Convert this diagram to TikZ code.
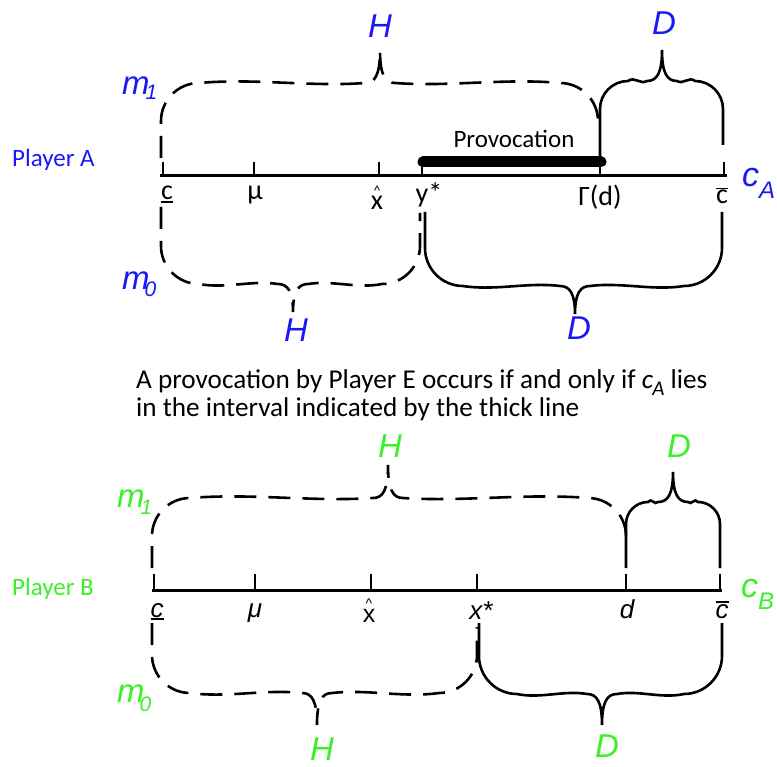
\documentclass[tikz,border=0pt]{standalone}
\usepackage{fontspec}
\setmainfont{Carlito}
\newfontfamily\lab{Liberation Sans}
\definecolor{pa}{RGB}{25,25,245}
\definecolor{pb}{RGB}{60,240,40}
\newcommand\obar[1]{\leavevmode\vbox{\offinterlineskip\hrule height 1.6pt\kern 1.2pt\hbox{#1}}}
\newcommand\ubar[1]{\leavevmode\vtop{\offinterlineskip\hbox{#1}\kern 1pt\hrule height 2.2pt}}
\newcommand\hatx[2]{\leavevmode\setbox0\hbox{#1}\vbox{\offinterlineskip\hbox to\wd0{\hss{\fontsize{14}{14}\selectfont\textasciicircum}\hss}\kern #2\box0}}
\newcommand\mybrace[9]{%
 \pgfmathsetmacro\bd{sign(#8-#6)}%
 \pgfmathsetmacro\ra{#2+#9}\pgfmathsetmacro\rb{#7-15}%
 \pgfmathsetmacro\la{#7+15}\pgfmathsetmacro\lb{#4-#9}%
 \draw[#1] (#2,#3) -- (#2,{#6-\bd*#9})
  .. controls (#2,{#6-\bd*#9*0.45}) and ({#2+#9*0.45},#6) .. (\ra,#6)
  .. controls ({\ra+(\rb-\ra)/3},{#6+\bd*5}) and ({\ra+2*(\rb-\ra)/3},{#6-\bd*4}) .. (\rb,#6)
  .. controls ({#7-5},#6) and (#7,{#6+\bd*8}) .. (#7,#8)
  .. controls (#7,{#6+\bd*8}) and ({#7+5},#6) .. (\la,#6)
  .. controls ({\la+(\lb-\la)/3},{#6-\bd*4}) and ({\la+2*(\lb-\la)/3},{#6+\bd*5}) .. (\lb,#6)
  .. controls ({#4-#9*0.45},#6) and (#4,{#6-\bd*#9*0.45}) .. (#4,{#6-\bd*#9}) -- (#4,#5);
}
\begin{document}
\begin{tikzpicture}[x=1pt,y=-1pt,
  axis/.style={line width=3pt},
  tickmark/.style={line width=1.5pt},
  solidbrace/.style={line width=2.6pt},
  dashbrace/.style={line width=2.6pt,dash pattern=on 22pt off 12pt},
  ital/.style={font=\lab\itshape\fontsize{33}{33}\selectfont,inner sep=0pt,anchor=base},
  tlab/.style={font=\fontsize{28}{28}\selectfont,inner sep=0pt,anchor=base},
  blab/.style={font=\lab\itshape\fontsize{26}{26}\selectfont,inner sep=0pt,anchor=base},
  txt/.style={font=\fontsize{25}{25}\selectfont,inner sep=0pt,anchor=base west},
  captxt/.style={font=\fontsize{27.2}{27.2}\selectfont,inner sep=0pt,anchor=base west}]
\useasboundingbox (0,0) rectangle (777,767);

% ---------------- Player A ----------------
\node[txt,text=pa] (pA) at (12,167) {Player A};
\coordinate (a0) at (160,176);
\coordinate (a1) at (727,176);
\draw[axis] (a0) -- (a1);
\foreach \n/\x in {c/163,mu/254,xh/379,ys/422,gd/600,cb/724}
  \draw[tickmark] (\x,162) coordinate (ta\n) -- (\x,176);
\node[tlab] (lac) at (167,200) {\ubar{c}};
\node[tlab] (lamu) at (255,200) {μ};
\node[tlab] (laxh) at (377,210) {\hatx{x}{1.5pt}};
\node[tlab] (lays) at (429,203) {y*};
\node[tlab] (lagd) at (600,206) {Γ(d)};
\node[tlab] (lacb) at (722,204) {\obar{c}};
\node[inner sep=0pt,anchor=base west,text=pa,font=\lab\itshape\fontsize{34}{34}\selectfont] (cA) at (742,187) {c\raisebox{-12pt}{\fontsize{24}{24}\selectfont A}};

\coordinate (pv0) at (423,162);
\coordinate (pv1) at (601,162);
\draw[line width=11pt,line cap=round] (pv0) -- (pv1);
\node[txt,anchor=base] (prov) at (514,148) {Provocation};

\mybrace{dashbrace}{161}{158}{598}{122}{83}{380}{50}{38}
\mybrace{solidbrace}{600}{165}{723}{145}{81}{662}{50}{28}
\mybrace{dashbrace}{161}{207}{420}{213}{284}{293}{312}{38}
\mybrace{solidbrace}{425}{212}{722}{212}{286}{575}{314}{38}

\node[ital,text=pa] (aH1) at (380,38) {H};
\node[ital,text=pa] (aD1) at (664,35) {D};
\node[ital,text=pa] (aH0) at (296,342) {H};
\node[ital,text=pa] (aD0) at (579,340) {D};
\node[ital,anchor=base west,text=pa] (am1) at (122,95) {m\kern-4pt\raisebox{-5pt}{\fontsize{21}{21}\selectfont 1}};
\node[ital,anchor=base west,text=pa] (am0) at (122,290) {m\kern-5pt\raisebox{-7pt}{\fontsize{21}{21}\selectfont 0}};

% ---------------- caption ----------------
\node[captxt] (cap1) at (136,389) {A provocation by Player E occurs if and only if \textit{c}\kern-1pt\raisebox{-7pt}{\fontsize{21}{21}\selectfont\textit{A}} lies};
\node[captxt] (cap2) at (136,417) {in the interval indicated by the thick line};

% ---------------- Player B ----------------
\node[txt,text=pb] (pB) at (12,595) {Player B};
\coordinate (b0) at (152,590);
\coordinate (b1) at (722,590);
\draw[axis] (b0) -- (b1);
\foreach \n/\x in {c/154,mu/255,xh/371,xs/477,d/626,cb/720}
  \draw[tickmark] (\x,574) coordinate (tb\n) -- (\x,590);
\node[blab] (lbc) at (157,617) {\ubar{c}};
\node[blab] (lbmu) at (255,617) {μ};
\node[blab,font=\lab\fontsize{25}{25}\selectfont] (lbxh) at (369,622) {\hatx{x}{0.5pt}};
\node[blab] (lbxs) at (481,619) {x*};
\node[blab] (lbd) at (627,618) {d};
\node[blab] (lbcb) at (722,618) {\obar{c}};
\node[inner sep=0pt,anchor=base west,text=pb,font=\lab\itshape\fontsize{34}{34}\selectfont] (cB) at (741,597) {c\raisebox{-12pt}{\fontsize{24}{24}\selectfont B}};

\mybrace{dashbrace}{152}{568}{626}{533}{498}{388}{465}{38}
\mybrace{solidbrace}{626}{568}{720}{568}{502}{673}{472}{22}
\mybrace{dashbrace}{152}{623}{477}{627}{693}{317}{725}{38}
\mybrace{solidbrace}{479}{623}{722}{623}{694}{602}{725}{38}

\node[ital,text=pb] (bH1) at (390,457) {H};
\node[ital,text=pb] (bD1) at (679,457) {D};
\node[ital,text=pb] (bH0) at (322,760) {H};
\node[ital,text=pb] (bD0) at (607,757) {D};
\node[ital,anchor=base west,text=pb] (bm1) at (117,507) {m\kern-4pt\raisebox{-7pt}{\fontsize{21}{21}\selectfont 1}};
\node[ital,anchor=base west,text=pb] (bm0) at (117,702) {m\kern-5pt\raisebox{-9pt}{\fontsize{21}{21}\selectfont 0}};
\end{tikzpicture}
\end{document}
